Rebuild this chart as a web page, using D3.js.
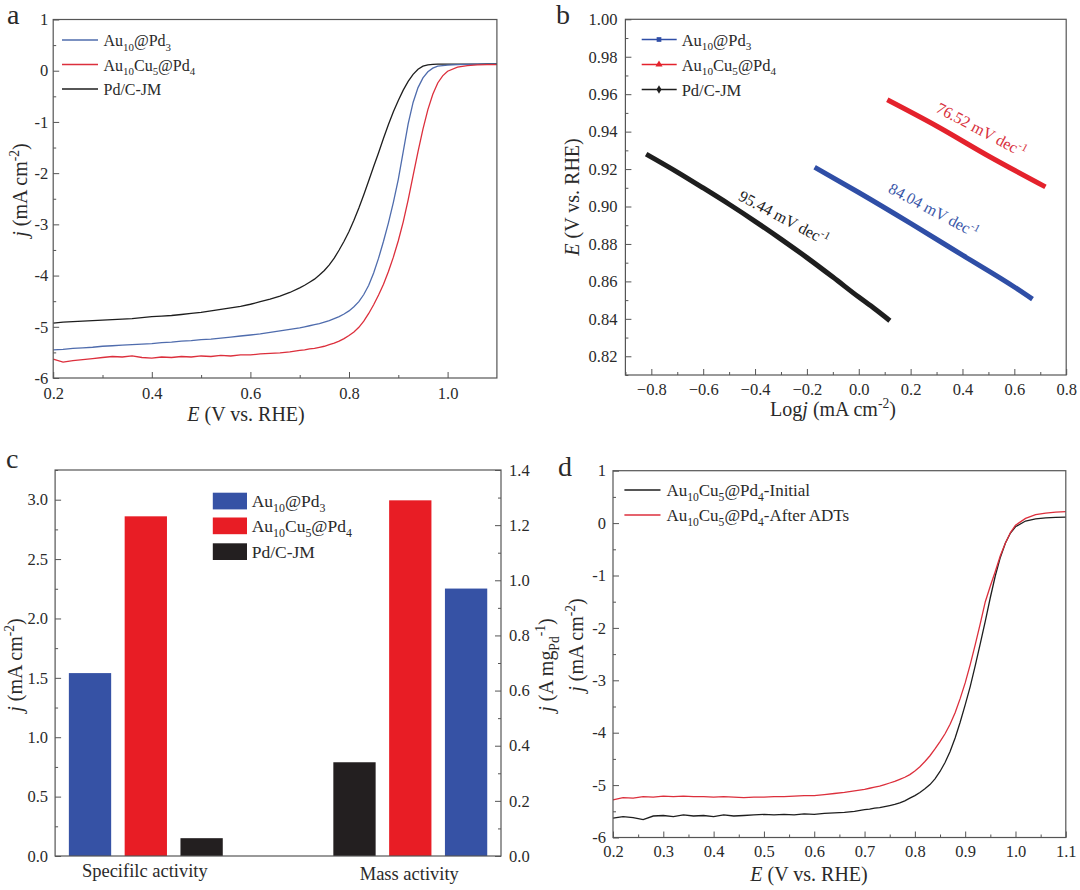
<!DOCTYPE html>
<html><head><meta charset="utf-8">
<script src="https://cdn.jsdelivr.net/npm/d3@7"></script>
<style>
body{margin:0;background:#fff}
svg text{font-family:"Liberation Serif","Times New Roman",serif;fill:#2a2a2a}
</style>
</head><body>
<svg id="fig" width="1080" height="890"></svg>
<script>
// ---------------- DATA ----------------
const seriesNames = ["Au_{10}@Pd_{3}", "Au_{10}Cu_{5}@Pd_{4}", "Pd/C-JM"];

// Panel a: LSV curves (E in V vs RHE, j in mA cm-2)
const aE = [0.20,0.22,0.24,0.26,0.28,0.30,0.32,0.34,0.36,0.38,0.40,0.42,0.44,0.46,0.48,0.50,0.52,0.54,0.56,0.58,0.60,0.62,0.64,0.66,0.68,0.70,
  0.71,0.72,0.73,0.74,0.75,0.76,0.77,0.78,0.79,0.80,0.81,0.82,0.83,0.84,0.85,0.86,0.87,0.88,0.89,0.90,0.91,0.92,0.93,0.94,0.95,0.96,0.97,0.98,0.99,1.00,
  1.02,1.04,1.06,1.08,1.10];
const aBlue = [-5.45,-5.44,-5.42,-5.41,-5.40,-5.38,-5.37,-5.36,-5.35,-5.34,-5.33,-5.31,-5.30,-5.28,-5.27,-5.25,-5.24,-5.22,-5.20,-5.18,-5.16,-5.14,-5.11,-5.08,-5.05,-5.02,
  -5.00,-4.98,-4.96,-4.94,-4.91,-4.88,-4.84,-4.80,-4.75,-4.69,-4.61,-4.51,-4.37,-4.19,-3.95,-3.66,-3.33,-2.97,-2.57,-2.12,-1.58,-1.04,-0.62,-0.33,-0.14,-0.02,0.05,0.09,0.10,0.11,
  0.12,0.125,0.13,0.13,0.13];
const aRed = [-5.63,-5.69,-5.66,-5.64,-5.62,-5.60,-5.58,-5.59,-5.57,-5.60,-5.61,-5.59,-5.60,-5.58,-5.59,-5.57,-5.58,-5.56,-5.57,-5.55,-5.55,-5.53,-5.52,-5.51,-5.49,-5.46,
  -5.45,-5.43,-5.42,-5.40,-5.38,-5.35,-5.32,-5.28,-5.23,-5.17,-5.10,-5.01,-4.89,-4.74,-4.57,-4.38,-4.17,-3.92,-3.64,-3.32,-2.95,-2.52,-2.05,-1.58,-1.14,-0.76,-0.46,-0.24,-0.10,-0.01,
  0.07,0.10,0.115,0.12,0.12];
const aBlack = [-4.93,-4.91,-4.90,-4.89,-4.88,-4.87,-4.86,-4.85,-4.84,-4.82,-4.80,-4.79,-4.78,-4.76,-4.74,-4.72,-4.69,-4.66,-4.63,-4.60,-4.56,-4.51,-4.46,-4.40,-4.33,-4.24,
  -4.19,-4.13,-4.07,-3.99,-3.90,-3.79,-3.66,-3.50,-3.33,-3.14,-2.92,-2.68,-2.42,-2.15,-1.87,-1.60,-1.32,-1.05,-0.80,-0.58,-0.38,-0.21,-0.07,0.03,0.09,0.115,0.125,0.13,0.13,0.13,
  0.13,0.13,0.13,0.135,0.135];

// Panel b: Tafel plots
const tafelBlueLogj = [-0.17, 0.0, 0.2, 0.4, 0.6, 0.67];
const tafelBlueE    = [0.921, 0.9075, 0.891, 0.874, 0.857, 0.8505];
const tafelRedLogj  = [0.11, 0.3, 0.5, 0.72];
const tafelRedE     = [0.957, 0.943, 0.927, 0.9105];
const tafelBlackLogj = [-0.82,-0.7,-0.6,-0.5,-0.4,-0.3,-0.2,-0.1,0.0,0.06,0.12];
const tafelBlackE    = [0.928,0.9184,0.9099,0.9012,0.8921,0.8826,0.8727,0.8623,0.8516,0.8455,0.839];
const tafelSlopeLabels = ["84.04 mV dec^{-1}", "76.52 mV dec^{-1}", "95.44 mV dec^{-1}"];
const tafelLabelLogj = [0.289, 0.4725, -0.289];
const tafelLabelE    = [0.898, 0.941, 0.894];

// Panel c: activities
const groupLabels = ["Specifilc activity", "Mass activity"];
const specificActivity = [1.54, 2.86, 0.15];   // mA cm-2 (left axis)
const massActivity     = [0.97, 1.29, 0.34];   // A mgPd-1 (right axis)
const specificOrder = [0, 1, 2];
const massOrder     = [2, 1, 0];

// Panel d: stability
const dNames = ["Au_{10}Cu_{5}@Pd_{4}-Initial", "Au_{10}Cu_{5}@Pd_{4}-After ADTs"];
const dInitial = [-5.63,-5.60,-5.62,-5.66,-5.59,-5.58,-5.60,-5.57,-5.59,-5.58,-5.60,-5.57,-5.59,-5.58,-5.57,-5.56,-5.57,-5.56,-5.57,-5.55,-5.56,-5.54,-5.53,-5.52,-5.50,-5.47,
  -5.46,-5.44,-5.43,-5.41,-5.39,-5.37,-5.34,-5.30,-5.25,-5.20,-5.14,-5.07,-4.99,-4.88,-4.74,-4.57,-4.36,-4.10,-3.80,-3.47,-3.12,-2.72,-2.30,-1.87,-1.42,-1.00,-0.65,-0.38,-0.19,-0.07,
  0.04,0.08,0.10,0.11,0.115];
const dAfter = [-5.28,-5.24,-5.25,-5.22,-5.23,-5.21,-5.22,-5.21,-5.22,-5.22,-5.23,-5.22,-5.23,-5.24,-5.23,-5.23,-5.22,-5.22,-5.21,-5.20,-5.20,-5.18,-5.16,-5.14,-5.11,-5.08,
  -5.06,-5.04,-5.02,-4.99,-4.96,-4.93,-4.89,-4.85,-4.80,-4.73,-4.65,-4.55,-4.44,-4.31,-4.17,-4.02,-3.84,-3.62,-3.35,-3.05,-2.70,-2.32,-1.92,-1.50,-1.20,-0.92,-0.62,-0.38,-0.18,-0.04,
  0.09,0.16,0.19,0.21,0.22];

// ticks
const aXTicks = [0.2,0.4,0.6,0.8,1.0], aXMinor = [0.3,0.5,0.7,0.9];
const aYTicks = [1,0,-1,-2,-3,-4,-5,-6], aYMinor = [0.5,-0.5,-1.5,-2.5,-3.5,-4.5,-5.5];
const bXTicks = [-0.8,-0.6,-0.4,-0.2,0.0,0.2,0.4,0.6,0.8], bXMinor = [-0.9,-0.7,-0.5,-0.3,-0.1,0.1,0.3,0.5,0.7];
const bYTicks = [0.82,0.84,0.86,0.88,0.90,0.92,0.94,0.96,0.98,1.00], bYMinor = [0.81,0.83,0.85,0.87,0.89,0.91,0.93,0.95,0.97,0.99];
const cLTicks = [0,0.5,1.0,1.5,2.0,2.5,3.0], cLMinor = [0.25,0.75,1.25,1.75,2.25,2.75,3.25];
const cRTicks = [0,0.2,0.4,0.6,0.8,1.0,1.2,1.4], cRMinor = [0.1,0.3,0.5,0.7,0.9,1.1,1.3];
const dXTicks = [0.2,0.3,0.4,0.5,0.6,0.7,0.8,0.9,1.0,1.1], dXMinor = [0.25,0.35,0.45,0.55,0.65,0.75,0.85,0.95,1.05];
const dYTicks = [1,0,-1,-2,-3,-4,-5,-6], dYMinor = [0.5,-0.5,-1.5,-2.5,-3.5,-4.5,-5.5];

// ---------------- HELPERS ----------------
const svg = d3.select("#fig");
const TICKFS = 16.5, TITLEFS = 20;
const BLUE_A = "#4f6cad", RED_A = "#dc2f3c", BLACK = "#1e1e1e";
const BLUE_B = "#2f4ea6", RED_B = "#e4222c";
const BAR_COL = ["#3652a5", "#e81d25", "#231f20"];

function rich(t, str, fs) {
  const re = /(_\{[^}]*\}|\^\{[^}]*\}|\*[^*]+\*)/g;
  const parts = str.split(re).filter(s => s && s.length);
  let shift = 0;
  parts.forEach(p => {
    let txt = p, kind = "";
    if (p.startsWith("_{")) { txt = p.slice(2, -1); kind = "sub"; }
    else if (p.startsWith("^{")) { txt = p.slice(2, -1); kind = "sup"; }
    else if (p.length > 2 && p[0] === "*" && p[p.length-1] === "*") { txt = p.slice(1, -1); kind = "i"; }
    const ts = t.append("tspan").text(txt);
    let target = 0;
    if (kind === "sub") { target = 0.3 * fs; ts.attr("font-size", (fs * 0.68).toFixed(1)); }
    if (kind === "sup") { target = -0.42 * fs; ts.attr("font-size", (fs * 0.68).toFixed(1)); }
    if (kind === "i") ts.attr("font-style", "italic");
    const dy = target - shift;
    if (Math.abs(dy) > 1e-6) ts.attr("dy", dy.toFixed(2));
    shift = target;
  });
  return t;
}
function label(x, y, str, fs, opts = {}) {
  const t = svg.append("text").attr("font-size", fs)
    .attr("text-anchor", opts.anchor || "start");
  if (opts.rotate !== undefined) t.attr("transform", `translate(${x},${y}) rotate(${opts.rotate})`);
  else t.attr("x", x).attr("y", y);
  if (opts.fill) t.style("fill", opts.fill);
  return rich(t, str, fs);
}
function styleAxis(g) {
  g.select(".domain").remove();
  g.selectAll(".tick line").attr("stroke", "#555").attr("stroke-width", 1);
  g.selectAll(".tick text").attr("font-size", TICKFS).style("fill", "#2a2a2a");
}
function drawAxis(gen, tx, ty) {
  const g = svg.append("g").attr("transform", `translate(${tx},${ty})`).call(gen);
  styleAxis(g);
  return g;
}
function frame(x0, y0, x1, y1) {
  svg.append("rect").attr("x", x0).attr("y", y0).attr("width", x1 - x0).attr("height", y1 - y0)
    .attr("fill", "none").attr("stroke", "#555").attr("stroke-width", 1.2);
}
const hyph = d => d < 0 ? "-" + Math.abs(d) : String(d);

// ---------------- PANEL A ----------------
(function(){
  const x0 = 53.2, x1 = 496.9, y0 = 19.5, y1 = 378;
  const x = d3.scaleLinear([0.2, 1.1], [x0, x1]);
  const y = d3.scaleLinear([-6, 1], [y1, y0]);
  drawAxis(d3.axisBottom(x).tickValues(aXTicks).tickSizeInner(-6).tickSizeOuter(0).tickPadding(9).tickFormat(d3.format(".1f")), 0, y1);
  drawAxis(d3.axisBottom(x).tickValues(aXMinor).tickSizeInner(-3).tickSizeOuter(0).tickFormat(""), 0, y1);
  drawAxis(d3.axisLeft(y).tickValues(aYTicks).tickSizeInner(-6).tickSizeOuter(0).tickPadding(5).tickFormat(hyph), x0, 0);
  drawAxis(d3.axisLeft(y).tickValues(aYMinor).tickSizeInner(-3).tickSizeOuter(0).tickFormat(""), x0, 0);
  const line = arr => d3.line().x((d, i) => x(aE[i])).y(d => y(d))(arr);
  [[aBlack, BLACK], [aBlue, BLUE_A], [aRed, RED_A]].forEach(([arr, c]) => {
    svg.append("path").attr("d", line(arr)).attr("fill", "none").attr("stroke", c).attr("stroke-width", 1.3);
  });
  frame(x0, y0, x1, y1);
  const cols = [BLUE_A, RED_A, BLACK], rows = [40, 64.5, 89];
  seriesNames.forEach((n, i) => {
    svg.append("line").attr("x1", 62).attr("x2", 98).attr("y1", rows[i]).attr("y2", rows[i]).attr("stroke", cols[i]).attr("stroke-width", 1.5);
    label(103.5, rows[i] + 6, n, 16);
  });
  label(246, 421, "*E* (V vs. RHE)", TITLEFS, {anchor: "middle"});
  label(27, 190, "*j* (mA cm^{-2})", TITLEFS, {anchor: "middle", rotate: -90});
  label(7, 24, "a", 28);
})();

// ---------------- PANEL B ----------------
(function(){
  const x0 = 625.4, x1 = 1066.2, y0 = 19.3, y1 = 375;
  const x = d3.scaleLinear([-0.9, 0.8], [x0, x1]);
  const y = d3.scaleLinear([0.81, 1.00], [y1, y0]);
  drawAxis(d3.axisBottom(x).tickValues(bXTicks).tickSizeInner(-6).tickSizeOuter(0).tickPadding(8).tickFormat(d3.format(".1f")), 0, y1);
  drawAxis(d3.axisBottom(x).tickValues(bXMinor).tickSizeInner(-3).tickSizeOuter(0).tickFormat(""), 0, y1);
  drawAxis(d3.axisLeft(y).tickValues(bYTicks).tickSizeInner(-6).tickSizeOuter(0).tickPadding(8).tickFormat(d3.format(".2f")), x0, 0);
  drawAxis(d3.axisLeft(y).tickValues(bYMinor).tickSizeInner(-3).tickSizeOuter(0).tickFormat(""), x0, 0);
  const mk = (xs, es) => d3.line().curve(d3.curveMonotoneX).x((d, i) => x(xs[i])).y(d => y(d))(es);
  [[tafelBlackLogj, tafelBlackE, BLACK], [tafelBlueLogj, tafelBlueE, BLUE_B], [tafelRedLogj, tafelRedE, RED_B]].forEach(([xs, es, c]) => {
    svg.append("path").attr("d", mk(xs, es)).attr("fill", "none").attr("stroke", c).attr("stroke-width", 5);
  });
  const tcols = ["#3a57a8", "#d8303c", "#222"];
  tafelSlopeLabels.forEach((s, i) => {
    const t = svg.append("text").attr("font-size", 16).attr("text-anchor", "middle").attr("dy", "0.35em")
      .attr("transform", `translate(${x(tafelLabelLogj[i])},${y(tafelLabelE[i])}) rotate(28)`).style("fill", tcols[i]);
    rich(t, s, 16);
  });
  frame(x0, y0, x1, y1);
  const cols = [BLUE_B, RED_B, BLACK], rows = [39.5, 64.5, 89.5];
  seriesNames.forEach((n, i) => {
    svg.append("line").attr("x1", 641.7).attr("x2", 676.7).attr("y1", rows[i]).attr("y2", rows[i]).attr("stroke", cols[i]).attr("stroke-width", 1.5);
    const sym = [d3.symbolSquare, d3.symbolTriangle, d3.symbolDiamond][i];
    svg.append("path").attr("d", d3.symbol(sym, 22)()).attr("transform", `translate(659,${rows[i]})`).attr("fill", cols[i]);
    label(681.7, rows[i] + 6, n, 16.5);
  });
  label(833, 416, "Log*j* (mA cm^{-2})", TITLEFS, {anchor: "middle"});
  label(579, 197, "*E* (V vs. RHE)", TITLEFS, {anchor: "middle", rotate: -90});
  label(556, 24, "b", 28);
})();

// ---------------- PANEL C ----------------
(function(){
  const x0 = 55.1, x1 = 501, y0 = 470, y1 = 856;
  const gx = d3.scalePoint(groupLabels, [x0, x1]).padding(0.343);
  const inner = d3.scaleBand([0, 1, 2], [-76.95, 76.95]).paddingInner(0.242);
  const yL = d3.scaleLinear([0, 3.25], [y1, y0]);
  const yR = d3.scaleLinear([0, 1.4], [y1, y0]);
  drawAxis(d3.axisLeft(yL).tickValues(cLTicks).tickSizeInner(-6).tickSizeOuter(0).tickPadding(7).tickFormat(d3.format(".1f")), x0, 0);
  drawAxis(d3.axisLeft(yL).tickValues(cLMinor).tickSizeInner(-3).tickSizeOuter(0).tickFormat(""), x0, 0);
  drawAxis(d3.axisRight(yR).tickValues(cRTicks).tickSizeInner(-6).tickSizeOuter(0).tickPadding(8).tickFormat(d3.format(".1f")), x1, 0);
  drawAxis(d3.axisRight(yR).tickValues(cRMinor).tickSizeInner(-3).tickSizeOuter(0).tickFormat(""), x1, 0);
  const groups = [
    {g: groupLabels[0], vals: specificActivity, order: specificOrder, y: yL},
    {g: groupLabels[1], vals: massActivity, order: massOrder, y: yR}
  ];
  groups.forEach(G => {
    G.order.forEach((s, slot) => {
      const v = G.vals[s];
      svg.append("rect").attr("x", gx(G.g) + inner(slot)).attr("width", inner.bandwidth())
        .attr("y", G.y(v)).attr("height", y1 - G.y(v)).attr("fill", BAR_COL[s]);
    });
  });
  frame(x0, y0, x1, y1);
  svg.selectAll(null).data(groupLabels).enter().append("text")
    .attr("x", d => gx(d) - 1).attr("y", (d, i) => i ? 880 : 877).attr("text-anchor", "middle")
    .attr("font-size", 18.5).text(d => d);
  const rows = [492.7, 517.5, 543.3];
  seriesNames.forEach((n, i) => {
    svg.append("rect").attr("x", 212.8).attr("y", rows[i]).attr("width", 34.2).attr("height", 16.7).attr("fill", BAR_COL[i]);
    label(251.7, rows[i] + 14.5, n, 17.5);
  });
  label(22, 665, "*j* (mA cm^{-2})", TITLEFS, {anchor: "middle", rotate: -90});
  label(553, 665, "*j* (A mg_{Pd}^{-1})", TITLEFS, {anchor: "middle", rotate: -90});
  label(6, 468, "c", 28);
})();

// ---------------- PANEL D ----------------
(function(){
  const x0 = 613, x1 = 1065.8, y0 = 470.7, y1 = 837.5;
  const x = d3.scaleLinear([0.2, 1.1], [x0, x1]);
  const y = d3.scaleLinear([-6, 1], [y1, y0]);
  drawAxis(d3.axisBottom(x).tickValues(dXTicks).tickSizeInner(-6).tickSizeOuter(0).tickPadding(8).tickFormat(d3.format(".1f")), 0, y1);
  drawAxis(d3.axisBottom(x).tickValues(dXMinor).tickSizeInner(-3).tickSizeOuter(0).tickFormat(""), 0, y1);
  drawAxis(d3.axisLeft(y).tickValues(dYTicks).tickSizeInner(-6).tickSizeOuter(0).tickPadding(7).tickFormat(hyph), x0, 0);
  drawAxis(d3.axisLeft(y).tickValues(dYMinor).tickSizeInner(-3).tickSizeOuter(0).tickFormat(""), x0, 0);
  const line = arr => d3.line().x((d, i) => x(aE[i])).y(d => y(d))(arr);
  [[dInitial, BLACK], [dAfter, RED_A]].forEach(([arr, c]) => {
    svg.append("path").attr("d", line(arr)).attr("fill", "none").attr("stroke", c).attr("stroke-width", 1.3);
  });
  frame(x0, y0, x1, y1);
  const cols = [BLACK, RED_A], rows = [490, 515];
  dNames.forEach((n, i) => {
    svg.append("line").attr("x1", 624.4).attr("x2", 660.5).attr("y1", rows[i]).attr("y2", rows[i]).attr("stroke", cols[i]).attr("stroke-width", 1.5);
    label(666.4, rows[i] + 6, n, 17);
  });
  label(809, 881, "*E* (V vs. RHE)", TITLEFS, {anchor: "middle"});
  label(583, 645, "*j* (mA cm^{-2})", TITLEFS, {anchor: "middle", rotate: -90});
  label(558, 476, "d", 28);
})();
</script>
</body></html>
